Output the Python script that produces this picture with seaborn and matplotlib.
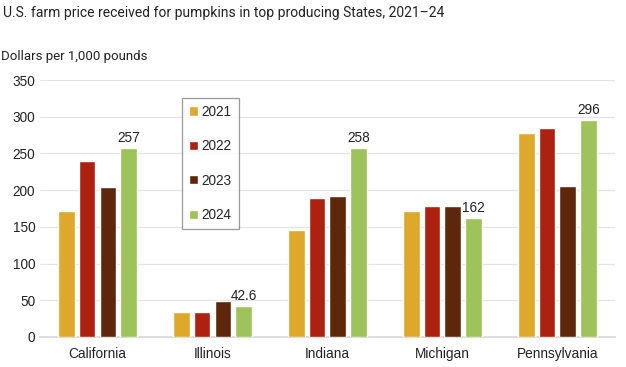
import matplotlib
matplotlib.use("Agg")
import matplotlib.pyplot as plt
import seaborn as sns
import pandas as pd

states = ["California", "Illinois", "Indiana", "Michigan", "Pennsylvania"]
years = ["2021", "2022", "2023", "2024"]
v2021 = [171, 34, 146, 171, 278]
v2022 = [239, 34, 189, 178.5, 284]
v2023 = [204, 49.5, 191.5, 178.5, 206]
v2024 = [257, 42.6, 258, 162, 296]
labels_2024 = ["257", "42.6", "258", "162", "296"]
colors = ["#DDA82B", "#AC2110", "#5E270C", "#9DC35A"]

rows = []
for yr, vals in zip(years, [v2021, v2022, v2023, v2024]):
    for s, v in zip(states, vals):
        rows.append({"State": s, "Year": yr, "Value": v})
df = pd.DataFrame(rows)

sns.set_theme(style="white")
plt.rcParams["font.family"] = ["Liberation Sans", "DejaVu Sans"]

fig = plt.figure(figsize=(6.26, 3.67), dpi=100)
ax = fig.add_axes([0.064, 0.082, 0.918, 0.70])
sns.barplot(data=df, x="State", y="Value", hue="Year", palette=colors,
            width=0.72, gap=0.2, ax=ax, saturation=1, errorbar=None, zorder=3)

ax.set_ylim(0, 350)
ax.set_yticks(range(0, 351, 50))
ax.yaxis.grid(True, color="#E4E4E4", linewidth=0.9, zorder=0)
ax.set_axisbelow(True)
for sp in ["top", "right", "left"]:
    ax.spines[sp].set_visible(False)
ax.spines["bottom"].set_color("#D9D9D9")
ax.tick_params(axis="both", length=0, labelsize=9.8, colors="#222222")
ax.tick_params(axis="x", pad=7)
ax.set_xlabel("")
ax.set_ylabel("")
ax.set_xlim(-0.5, 4.5)

cont = ax.containers[3]
ax.bar_label(cont, labels=labels_2024, padding=2, fontsize=9.8, color="#222222")

handles, lbls = ax.get_legend_handles_labels()
leg = ax.legend(handles, lbls, loc="upper left", bbox_to_anchor=(0.247, 0.93),
                frameon=True, fancybox=False, edgecolor="#808080",
                fontsize=9.8, handlelength=0.65, handleheight=0.65,
                labelspacing=1.5, borderpad=0.5, handletextpad=0.3,
                borderaxespad=0)
leg.get_frame().set_linewidth(0.9)

fig.text(0.005, 0.965, "U.S. farm price received for pumpkins in top producing States, 2021\u201324",
         fontsize=10, color="#222222", va="center", ha="left", family=["Roboto", "DejaVu Sans"])
fig.text(0.002, 0.845, "Dollars per 1,000 pounds", fontsize=9.5, color="#222222",
         va="center", ha="left", family=["Roboto", "DejaVu Sans"])

fig.savefig("out.png", dpi=100)
